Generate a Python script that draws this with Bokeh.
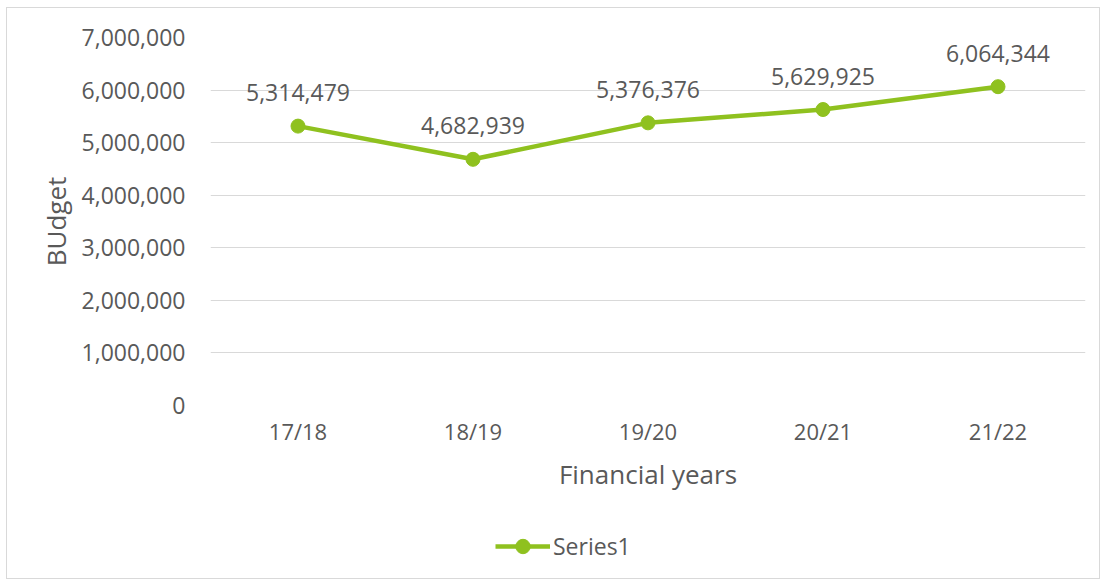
from bokeh.plotting import figure
from bokeh.layouts import column
from bokeh.models import (FactorRange, Range1d, NumeralTickFormatter, ColumnDataSource,
                          Legend, LegendItem, FixedTicker)
from bokeh.embed import file_html
from bokeh.resources import INLINE
from bokeh.core.properties import value

years = ["17/18", "18/19", "19/20", "20/21", "21/22"]
budget = [5314479, 4682939, 5376376, 5629925, 6064344]
y_ticks = [0, 1000000, 2000000, 3000000, 4000000, 5000000, 6000000, 7000000]
series_name = "Series1"
x_title = "Financial years"
y_title = "BUdget"

FONT = "Open Sans"
TXT = "#595959"
GREEN = "#8FC11F"
GRID = "#d9d9d9"

src = ColumnDataSource(dict(x=years, y=budget, lab=[f"{v:,}" for v in budget]))

p = figure(width=1092, height=508, x_range=FactorRange(*years, range_padding=0),
           y_range=Range1d(0, 7000000), output_backend="svg", toolbar_location=None,
           min_border_left=203, min_border_right=14, min_border_top=29, min_border_bottom=111)
p.outline_line_color = None
p.background_fill_color = "white"
p.border_fill_color = "white"

p.xgrid.grid_line_color = None
p.ygrid.grid_line_color = GRID
p.ygrid.grid_line_width = 1

p.yaxis.ticker = FixedTicker(ticks=y_ticks)
p.yaxis.formatter = NumeralTickFormatter(format="0,0")
for ax in (p.xaxis[0], p.yaxis[0]):
    ax.axis_line_color = None
    ax.major_tick_line_color = None
    ax.minor_tick_line_color = None
    ax.major_tick_out = 0
    ax.major_tick_in = 0
    ax.major_label_text_font = FONT
    ax.major_label_text_color = TXT
    ax.axis_label_text_font = FONT
    ax.axis_label_text_font_size = "26px"
    ax.axis_label_text_color = TXT
    ax.axis_label_text_font_style = "normal"

p.yaxis.major_label_text_font_size = "23px"
p.xaxis.major_label_text_font_size = "22px"
p.yaxis.major_label_standoff = 25
p.yaxis.axis_label = y_title
p.yaxis.axis_label_standoff = 5
p.xaxis.major_label_standoff = 10
p.xaxis.axis_label = x_title
p.xaxis.axis_label_standoff = 7

p.line("x", "y", source=src, line_color=GREEN, line_width=4.5)
p.scatter("x", "y", source=src, size=14, fill_color=GREEN, line_color=GREEN)

p.text("x", "y", text="lab", source=src, text_font=value(FONT), text_font_size="23px",
       text_color=TXT, text_align="center", text_baseline="bottom", y_offset=-25)

# legend strip below the chart (its renderers sit outside the visible range)
lg = figure(width=1092, height=62, output_backend="svg", toolbar_location=None,
            x_axis_type=None, y_axis_type=None,
            x_range=Range1d(0, 1), y_range=Range1d(0, 1),
            min_border_left=0, min_border_right=0, min_border_top=0, min_border_bottom=0)
lg.outline_line_color = None
lg.xgrid.grid_line_color = None
lg.ygrid.grid_line_color = None
lg_src = ColumnDataSource(dict(x=[-10, -11], y=[-10, -10]))
l_ln = lg.line("x", "y", source=lg_src, line_color=GREEN, line_width=4.5)
l_sc = lg.scatter("x", "y", source=lg_src, size=14, fill_color=GREEN, line_color=GREEN)
legend = Legend(items=[LegendItem(label=series_name, renderers=[l_ln, l_sc])],
                location=(285, 14), orientation="horizontal",
                padding=0, margin=0, spacing=0,
                glyph_width=55, glyph_height=36, label_height=36, label_standoff=3,
                label_text_font=FONT, label_text_font_size="23px", label_text_color=TXT,
                background_fill_alpha=0, border_line_color=None)
lg.add_layout(legend, "center")

layout = column(p, lg, spacing=0)
layout.styles = {"border": f"1px solid {GRID}", "margin-left": "6px", "margin-top": "7px"}

open("out.html", "w").write(file_html(layout, INLINE))
